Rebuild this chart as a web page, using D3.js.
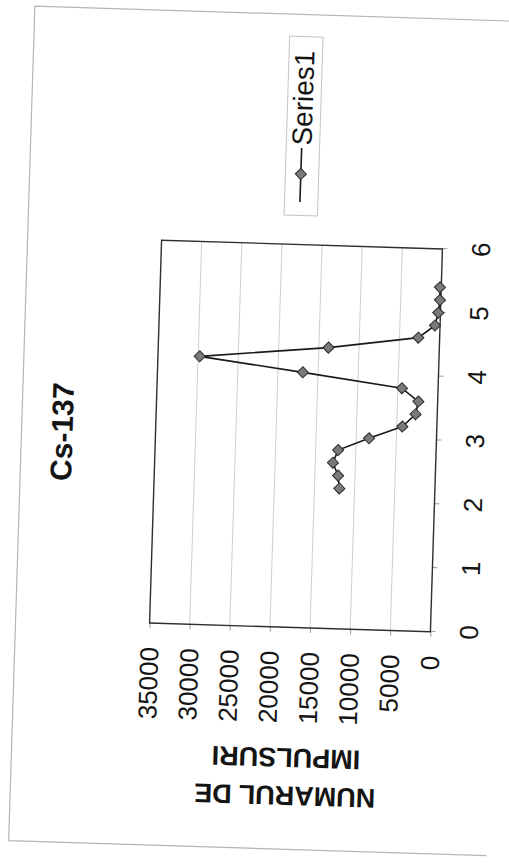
<!DOCTYPE html>
<html>
<head>
<meta charset="utf-8">
<script src="https://d3js.org/d3.v7.min.js"></script>
<style>
    body { margin: 0; background: #fff; }
    svg { display: block; }
    text { font-family: "Liberation Sans", Arial, sans-serif; fill: #141414; }
</style>
</head>
<body>
<svg id="drawing_region"></svg>
<script>
// values
const chartTitle = 'Cs-137';
const yTitleLines = ['NUMARUL DE', 'IMPULSURI'];
const seriesName = 'Series1';
const energies = [2.2, 2.4, 2.6, 2.8, 3.0, 3.2, 3.4, 3.6, 3.8, 4.0, 4.2, 4.4, 4.6, 4.8, 5.0, 5.2, 5.4];
const counts = [11900, 12100, 12800, 12200, 8400, 4300, 2700, 2400, 4500, 16900, 29800, 13800, 2650, 630, 270, 110, 160];
const xTicks = [0, 1, 2, 3, 4, 5, 6];
const yTicks = [0, 5000, 10000, 15000, 20000, 25000, 30000, 35000];

class ScatterLineChart {

    constructor( config, data ) {
        this.config = {
            parent: config.parent,
            width: config.width || 509,
            height: config.height || 865,
            chart_width: config.chart_width || 835,
            chart_height: config.chart_height || 478,
            margin: config.margin || {top:134, left:222},
            inner_width: config.inner_width || 383,
            inner_height: config.inner_height || 281,
            // the page was scanned turned on its side, slightly crooked
            angle: config.angle || -88.2,
            center: config.center || [296, 436]
        };
        this.data = data;
        this.init();
    }

    init() {
        let self = this;
        const c = self.config;
        self.svg = d3.select( c.parent )
            .attr( 'width', c.width )
            .attr( 'height', c.height );
        const cx = c.margin.left + c.inner_width / 2;
        const cy = c.margin.top + c.inner_height / 2;
        self.root = self.svg.append('g')
            .attr( 'transform', `translate(${c.center[0]}, ${c.center[1]}) rotate(${c.angle}) translate(${-cx}, ${-cy})` );
        self.chart = self.root.append('g')
            .attr( 'transform', `translate(${c.margin.left}, ${c.margin.top})` );
    }

    update() {
        let self = this;
        const c = self.config;
        self.xscale = d3.scaleLinear()
            .domain( [0, 6] )
            .range( [0, c.inner_width] );
        self.yscale = d3.scaleLinear()
            .domain( [0, 35000] )
            .range( [c.inner_height, 0] );
        self.line = d3.line()
            .x( d => self.xscale(d.x) )
            .y( d => self.yscale(d.y) );
        self.marker = d3.symbol().type( d3.symbolSquare ).size( 62 );
        this.render();
    }

    render() {
        let self = this;
        const c = self.config;

        // chart area border (the far side is not visible on the scan)
        const W = c.chart_width, H = c.chart_height;
        self.root.append('path')
            .attr('d', `M0,${H} L0,0 L${W},0 L${W},${H}`)
            .attr('fill', 'none')
            .attr('stroke', '#b4b4b4')
            .attr('stroke-width', 1.2);

        // gridlines
        self.chart.selectAll('.grid')
            .data( yTicks.filter( t => t > 0 && t < 35000 ) )
            .enter().append('line')
            .attr('x1', 0).attr('x2', c.inner_width)
            .attr('y1', d => self.yscale(d)).attr('y2', d => self.yscale(d))
            .attr('stroke', '#cfcfcf')
            .attr('stroke-width', 1);

        // axes
        const xaxis = self.chart.append('g')
            .attr('transform', `translate(0, ${c.inner_height})`)
            .call( d3.axisBottom(self.xscale).tickValues(xTicks).tickSize(5).tickFormat(d3.format('d')) );
        const yaxis = self.chart.append('g')
            .call( d3.axisLeft(self.yscale).tickValues(yTicks).tickSize(5).tickFormat(d3.format('d')) );
        [xaxis, yaxis].forEach( ax => {
            ax.select('.domain').remove();
            ax.selectAll('.tick line').attr('stroke', '#9a9a9a');
            ax.selectAll('.tick text')
                .attr('font-size', 26)
                .attr('font-family', '"Liberation Sans", Arial, sans-serif')
                .attr('fill', '#141414');
        });
        xaxis.selectAll('.tick text').attr('y', 38.5).attr('dy', '0.35em');
        yaxis.selectAll('.tick text').attr('x', -24).attr('dy', '0.35em');

        // plot frame
        self.chart.append('rect')
            .attr('width', c.inner_width)
            .attr('height', c.inner_height)
            .attr('fill', 'none')
            .attr('stroke', '#2e2e2e')
            .attr('stroke-width', 1.4);

        // series
        self.chart.append('path')
            .datum( self.data )
            .attr('d', self.line)
            .attr('fill', 'none')
            .attr('stroke', '#1a1a1a')
            .attr('stroke-width', 1.6);
        self.chart.selectAll('.pt')
            .data( self.data )
            .enter().append('path')
            .attr('d', self.marker)
            .attr('transform', d => `translate(${self.xscale(d.x)}, ${self.yscale(d.y)}) rotate(45)`)
            .attr('fill', '#7a7a7a')
            .attr('stroke', '#2a2a2a')
            .attr('stroke-width', 1);

        // title
        self.root.append('text')
            .attr('x', c.margin.left + c.inner_width / 2 - 3)
            .attr('y', 40.5)
            .attr('dy', '0.35em')
            .attr('text-anchor', 'middle')
            .attr('font-size', 30)
            .attr('font-weight', 'bold')
            .text( chartTitle );

        // y axis title, two lines
        const ty = self.root.append('text')
            .attr('transform', `translate(53.5, ${c.margin.top + c.inner_height / 2}) rotate(-90)`)
            .attr('text-anchor', 'middle')
            .attr('font-size', 27)
            .attr('font-weight', 'bold');
        yTitleLines.forEach( (s, i) => {
            ty.append('tspan')
                .attr('x', 0)
                .attr('dy', i == 0 ? '0.35em' : 38)
                .text( s );
        });

        // legend
        const lg = self.root.append('g')
            .attr('transform', `translate(634, 255.6)`);
        lg.append('rect')
            .attr('width', 179)
            .attr('height', 33.4)
            .attr('fill', 'none')
            .attr('stroke', '#c4c4c4')
            .attr('stroke-width', 1);
        lg.append('line')
            .attr('x1', 13.5).attr('x2', 67.5)
            .attr('y1', 15.5).attr('y2', 15.5)
            .attr('stroke', '#1a1a1a')
            .attr('stroke-width', 1.6);
        lg.append('path')
            .attr('d', self.marker)
            .attr('transform', 'translate(41.5, 15.5) rotate(45)')
            .attr('fill', '#7a7a7a')
            .attr('stroke', '#2a2a2a')
            .attr('stroke-width', 1);
        lg.append('text')
            .attr('x', 70)
            .attr('y', 15.5)
            .attr('dy', '0.35em')
            .attr('font-size', 28)
            .text( seriesName );
    }
}

const data = energies.map( (e, i) => ({ x: e, y: counts[i] }) );
const config = {
    parent: '#drawing_region'
};
const chart = new ScatterLineChart( config, data );
chart.update();
</script>
</body>
</html>
